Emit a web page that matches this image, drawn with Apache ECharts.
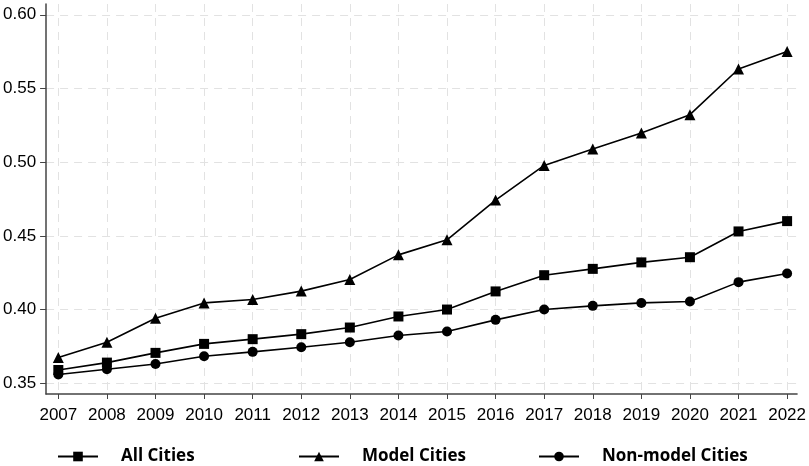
<!DOCTYPE html>
<html><head><meta charset="utf-8">
<script src="https://cdn.jsdelivr.net/npm/echarts@6/dist/echarts.min.js"></script>
<style>html,body{margin:0;padding:0;background:#fff}#c{width:809px;height:466px}</style>
</head><body><div id="c"></div>
<script>
const years = [2007,2008,2009,2010,2011,2012,2013,2014,2015,2016,2017,2018,2019,2020,2021,2022];
const allCities = [0.359,0.364,0.3706,0.3767,0.3799,0.3833,0.3878,0.3953,0.4000,0.4123,0.4233,0.4276,0.4320,0.4355,0.4530,0.4600];
const modelCities = [0.3675,0.3778,0.3941,0.4045,0.4068,0.4125,0.4204,0.4371,0.4473,0.4743,0.4978,0.5089,0.5198,0.5322,0.5632,0.5750];
const nonModelCities = [0.3559,0.3595,0.3631,0.3683,0.3713,0.3744,0.3778,0.3824,0.3851,0.3930,0.4000,0.4025,0.4045,0.4055,0.4186,0.4245];
const yTicks = [0.35,0.40,0.45,0.50,0.55,0.60];
const names = ['All Cities','Model Cities','Non-model Cities'];

const chart = echarts.init(document.getElementById('c'), null, {renderer:'canvas'});
const pair = arr => years.map((y,i)=>[y,arr[i]]);
const lineStyle = {color:'#000', width:1.6};
const mkSeries = (name, data, symbol, size) => ({
  name, type:'line', data: pair(data), symbol, symbolSize:size,
  lineStyle, itemStyle:{color:'#000'}, animation:false
});
const legendBase = (name, left) => ({
  data:[name], left, top:448, padding:0, itemWidth:40, itemHeight:12,
  textStyle:{fontFamily:'"Open Sans"', fontWeight:'bold', fontSize:17, color:'#000', padding:[0,0,0,18]}
});
chart.setOption({
  backgroundColor:'#fff',
  animation:false,
  grid:{left:45, top:4, right:10, bottom:72, containLabel:false},
  xAxis:{
    type:'value', min:2006.748, max:2022.205,
    axisLine:{show:true, lineStyle:{color:'#444', width:1.5}},
    axisTick:{show:true, length:5, customValues: years, lineStyle:{color:'#444'}},
    axisLabel:{customValues: years, fontFamily:'"Liberation Sans", Arial', fontSize:17, color:'#000', margin:13, formatter: v=>String(v)},
    splitLine:{show:true, lineStyle:{color:'#e2e2e2', type:[8,6], width:1}}
  },
  yAxis:{
    type:'value', min:0.3427, max:0.6073,
    axisLine:{show:true, lineStyle:{color:'#444', width:1.5}},
    axisTick:{show:true, length:6, customValues: yTicks, lineStyle:{color:'#444'}},
    axisLabel:{customValues: yTicks, fontFamily:'"Liberation Sans", Arial', fontSize:17, color:'#000', margin:10, formatter: v=>v.toFixed(2)},
    splitLine:{show:true, lineStyle:{color:'#e2e2e2', type:[8,6], width:1}}
  },
  legend:[legendBase(names[0],57), legendBase(names[1],298), legendBase(names[2],538)],
  series:[
    mkSeries(names[0], allCities, 'rect', 10),
    mkSeries(names[1], modelCities, 'triangle', 11),
    mkSeries(names[2], nonModelCities, 'circle', 10)
  ]
});
</script></body></html>
